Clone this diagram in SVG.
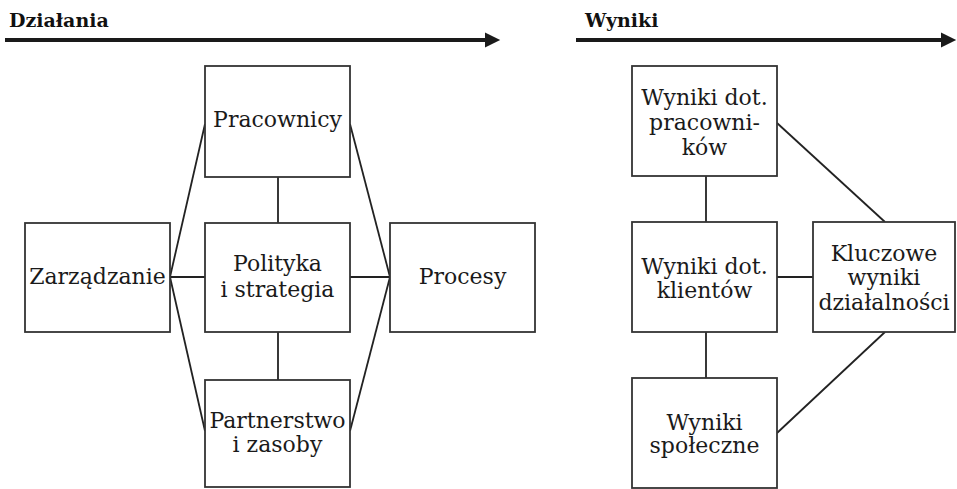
<svg xmlns="http://www.w3.org/2000/svg" width="957" height="489" viewBox="0 0 957 489">
<style>
.box{fill:#fff;stroke:#333;stroke-width:1.8}
.ln{stroke:#222;stroke-width:1.8;fill:none}
.t{font-family:"DejaVu Serif","Liberation Serif",serif;font-size:22px;fill:#1a1a1a;text-anchor:middle}
.h{font-family:"DejaVu Serif","Liberation Serif",serif;font-size:19px;font-weight:bold;fill:#111}
.ax{stroke:#1a1a1a;stroke-width:4;fill:none}
</style>
<defs>
<marker id="ah" markerWidth="4" markerHeight="4" refX="0" refY="1.9" orient="auto" markerUnits="strokeWidth">
<path d="M0,0 L3.8,1.9 L0,3.8 Z" fill="#1a1a1a"/>
</marker>
</defs>
<rect width="957" height="489" fill="#fff"/>
<g id="headers">
<text class="h" x="9" y="27">Działania</text>
<line class="ax" x1="5" y1="40" x2="485" y2="40" marker-end="url(#ah)"/>
<text class="h" x="585" y="27">Wyniki</text>
<line class="ax" x1="576" y1="40" x2="941" y2="40" marker-end="url(#ah)"/>
</g>
<g id="connectors">
<line class="ln" x1="170" y1="277" x2="205" y2="277"/>
<line class="ln" x1="350" y1="277" x2="390" y2="277"/>
<line class="ln" x1="278" y1="177" x2="278" y2="223"/>
<line class="ln" x1="278" y1="332" x2="278" y2="380"/>
<line class="ln" x1="170" y1="277" x2="205" y2="124"/>
<line class="ln" x1="170" y1="277" x2="205" y2="431"/>
<line class="ln" x1="350" y1="124" x2="390" y2="277"/>
<line class="ln" x1="350" y1="431" x2="390" y2="277"/>
<line class="ln" x1="706" y1="176" x2="706" y2="222"/>
<line class="ln" x1="706" y1="332" x2="706" y2="378"/>
<line class="ln" x1="777" y1="277" x2="813" y2="277"/>
<line class="ln" x1="777" y1="123" x2="885" y2="222"/>
<line class="ln" x1="777" y1="433" x2="885" y2="332"/>
</g>
<g id="zarzadzanie">
<rect class="box" x="25" y="223" width="145" height="109"/>
<text class="t" x="97.5" y="284">Zarządzanie</text>
</g>
<g id="pracownicy">
<rect class="box" x="205" y="66" width="145" height="111"/>
<text class="t" x="277.5" y="127">Pracownicy</text>
</g>
<g id="polityka">
<rect class="box" x="205" y="223" width="145" height="109"/>
<text class="t" x="277.5" y="271">Polityka</text>
<text class="t" x="277.5" y="297">i strategia</text>
</g>
<g id="partnerstwo">
<rect class="box" x="205" y="380" width="145" height="107"/>
<text class="t" x="277.5" y="428">Partnerstwo</text>
<text class="t" x="277.5" y="452">i zasoby</text>
</g>
<g id="procesy">
<rect class="box" x="390" y="223" width="145" height="109"/>
<text class="t" x="462.5" y="284">Procesy</text>
</g>
<g id="wyniki-pracownikow">
<rect class="box" x="632" y="66" width="145" height="110"/>
<text class="t" x="704.5" y="105">Wyniki dot.</text>
<text class="t" x="704.5" y="130">pracowni-</text>
<text class="t" x="704.5" y="155">ków</text>
</g>
<g id="wyniki-klientow">
<rect class="box" x="632" y="222" width="145" height="110"/>
<text class="t" x="704.5" y="274">Wyniki dot.</text>
<text class="t" x="704.5" y="298">klientów</text>
</g>
<g id="wyniki-spoleczne">
<rect class="box" x="632" y="378" width="145" height="110"/>
<text class="t" x="704.5" y="430">Wyniki</text>
<text class="t" x="704.5" y="453">społeczne</text>
</g>
<g id="kluczowe">
<rect class="box" x="813" y="222" width="142" height="110"/>
<text class="t" x="884" y="261">Kluczowe</text>
<text class="t" x="884" y="285">wyniki</text>
<text class="t" x="884" y="310">działalności</text>
</g>
</svg>
